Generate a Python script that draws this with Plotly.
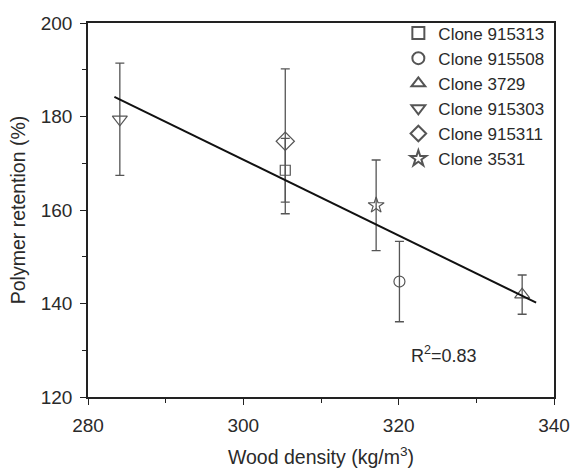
import plotly.graph_objects as go

clones = ["Clone 915313", "Clone 915508", "Clone 3729", "Clone 915303", "Clone 915311", "Clone 3531"]
density = [305.4, 320.1, 335.9, 284.1, 305.4, 317.1]
retention = [168.5, 144.7, 141.9, 179.4, 174.7, 161.0]
err = [6.8, 8.6, 4.2, 12.0, 15.5, 9.7]
symbols = ["square-open", "circle-open", "triangle-up-open", "triangle-down-open", "diamond-open", "star-open"]
sizes = [10, 11, 13, 13, 14, 12]

fit_x = [283.4, 337.7]
fit_y = [184.2, 140.2]

FONT = "Liberation Sans, Arial, sans-serif"
GRAY = "#555555"
TXT = "#2a2a2a"

fig = go.Figure()
for i in range(len(clones)):
    fig.add_trace(go.Scatter(
        x=[density[i]], y=[retention[i]], mode="markers", name=clones[i],
        marker=dict(symbol=symbols[i], size=sizes[i], color=GRAY, line=dict(width=1.2, color=GRAY)),
        error_y=dict(type="data", array=[err[i]], visible=True, color=GRAY, thickness=1.3, width=4.5),
    ))

fig.add_trace(go.Scatter(x=fit_x, y=fit_y, mode="lines", line=dict(color="#111111", width=2), showlegend=False))

fig.add_annotation(x=321.3, y=129.1, xref="x", yref="y", text="R<sup>2</sup>=0.83", showarrow=False,
                   xanchor="left", yanchor="middle", font=dict(family=FONT, size=18, color=TXT))

axis_common = dict(showline=True, linecolor="#222222", linewidth=1.5, mirror=True, showgrid=False, zeroline=False,
                   ticks="outside", ticklen=6, tickwidth=1.2, tickcolor="#222222", automargin=False,
                   tickfont=dict(family=FONT, size=19, color=TXT))

fig.update_xaxes(range=[280, 340], tick0=280, dtick=20, ticklabelstandoff=4,
                 minor=dict(ticks="outside", ticklen=4, tickwidth=1, tickcolor="#222222", tick0=280, dtick=10),
                 title=dict(text="Wood density (kg/m<sup>3</sup>)", font=dict(family=FONT, size=19.5, color=TXT), standoff=16),
                 **axis_common)
fig.update_yaxes(range=[120, 200], tick0=120, dtick=20, ticklabelstandoff=4,
                 minor=dict(ticks="outside", ticklen=4, tickwidth=1, tickcolor="#222222", tick0=120, dtick=10),
                 title=dict(text="Polymer retention (%)", font=dict(family=FONT, size=19.5, color=TXT), standoff=10),
                 **axis_common)

fig.update_layout(
    width=573, height=469,
    margin=dict(l=88, r=19, t=23, b=72, autoexpand=False),
    paper_bgcolor="white", plot_bgcolor="white",
    showlegend=True,
    legend=dict(x=0.666, y=1.02, xanchor="left", yanchor="top", bgcolor="rgba(0,0,0,0)",
                font=dict(family=FONT, size=17, color=TXT), itemsizing="constant", tracegroupgap=0),
)

fig.write_html("out.html")
